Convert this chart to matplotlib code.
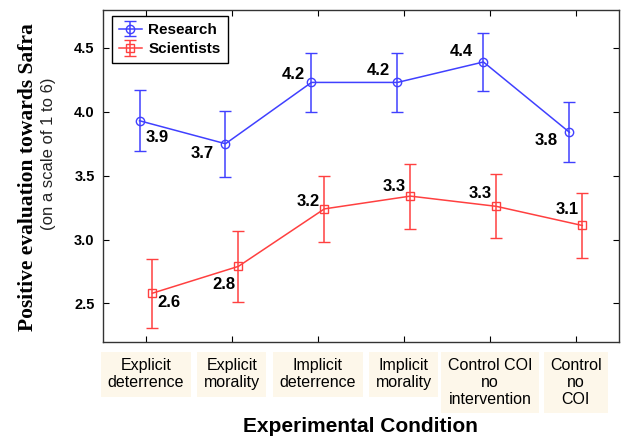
import numpy as np
import matplotlib
matplotlib.use("Agg")
import matplotlib.pyplot as plt

# ==========================================
# DATA
# ==========================================

conditions = [
    "Explicit\ndeterrence",
    "Explicit\nmorality",
    "Implicit\ndeterrence",
    "Implicit\nmorality",
    "Control COI\nno\nintervention",
    "Control\nno\nCOI",
]

research_mean = [3.93, 3.75, 4.23, 4.23, 4.39, 3.84]
research_err = [0.24, 0.26, 0.23, 0.23, 0.225, 0.235]
research_labels = ["3.9", "3.7", "4.2", "4.2", "4.4", "3.8"]

scientists_mean = [2.58, 2.79, 3.24, 3.34, 3.26, 3.11]
scientists_err = [0.27, 0.28, 0.26, 0.255, 0.25, 0.255]
scientists_labels = ["2.6", "2.8", "3.2", "3.3", "3.3", "3.1"]

# label offsets in pixels (dx, dy, ha)
research_offsets = [(6, -17, "left"), (-12, -10, "right"), (-7, 8, "right"),
                    (-8, 12, "right"), (-11, 10, "right"), (-12, -8, "right")]
scientists_offsets = [(5, -9, "left"), (-3, -18, "right"), (-5, 7, "right"),
                      (-5, 10, "right"), (-5, 13, "right"), (-4, 16, "right")]

# ==========================================
# FIGURE
# ==========================================

plt.rcParams["font.family"] = ["Liberation Sans", "DejaVu Sans"]

fig = plt.figure(figsize=(6.23, 4.37), dpi=100)
ax = fig.add_axes([0.1653, 0.218, 0.828, 0.760])

x = np.arange(1, len(conditions) + 1)
shift = 0.075

blue = "#4040ff"
red = "#ff4040"

ax.errorbar(
    x - shift, research_mean, yerr=research_err,
    color=blue, ecolor=blue, lw=1.1, elinewidth=1.1,
    marker="o", ms=6, mfc="none", mec=blue, mew=1.0,
    capsize=4, capthick=1.1, label="Research"
)

ax.errorbar(
    x + shift, scientists_mean, yerr=scientists_err,
    color=red, ecolor=red, lw=1.1, elinewidth=1.1,
    marker="s", ms=6, mfc="none", mec=red, mew=1.0,
    capsize=4, capthick=1.1, label="Scientists"
)

for xi, yi, lab, (dx, dy, ha) in zip(x - shift, research_mean, research_labels, research_offsets):
    ax.annotate(lab, (xi, yi), xytext=(dx, dy), textcoords="offset pixels",
                ha=ha, va="center", fontsize=12, fontweight="bold")

for xi, yi, lab, (dx, dy, ha) in zip(x + shift, scientists_mean, scientists_labels, scientists_offsets):
    ax.annotate(lab, (xi, yi), xytext=(dx, dy), textcoords="offset pixels",
                ha=ha, va="center", fontsize=12, fontweight="bold")

# ==========================================
# AXES
# ==========================================

ax.set_xlim(0.5, 6.5)
ax.set_ylim(2.2, 4.8)

ax.set_yticks([2.5, 3.0, 3.5, 4.0, 4.5])
ax.set_yticklabels(["2.5", "3.0", "3.5", "4.0", "4.5"], fontsize=10.5, fontweight="bold")

ax.set_xticks(x)
ax.set_xticklabels(
    conditions, fontsize=11.5, linespacing=1.15,
    bbox=dict(boxstyle="square,pad=0.4", fc="#fdf7ea", ec="none")
)

ax.tick_params(axis="both", direction="in", top=True, right=True, length=4, width=0.8)
ax.tick_params(axis="x", pad=12)
ax.tick_params(axis="y", pad=6)

for sp in ax.spines.values():
    sp.set_linewidth(1.0)
    sp.set_color("#333333")

ax.set_xlabel("Experimental Condition", fontsize=15, fontweight="bold", labelpad=7)

fig.text(0.045, 0.595, "Positive evaluation towards Safra", rotation=90,
         ha="center", va="center", fontsize=15.5, fontweight="bold",
         family=["Liberation Serif", "DejaVu Serif"])
fig.text(0.078, 0.648, "(on a scale of 1 to 6)", rotation=90,
         ha="center", va="center", fontsize=12, color="#222222")

leg = ax.legend(
    loc="upper left", bbox_to_anchor=(0.017, 0.98),
    prop=dict(weight="bold", size=11), fancybox=False, framealpha=1,
    edgecolor="black", handlelength=1.5, handletextpad=0.45,
    borderpad=0.45, labelspacing=0.35, borderaxespad=0
)
leg.get_frame().set_linewidth(1.0)

plt.savefig("out.png", dpi=100)
